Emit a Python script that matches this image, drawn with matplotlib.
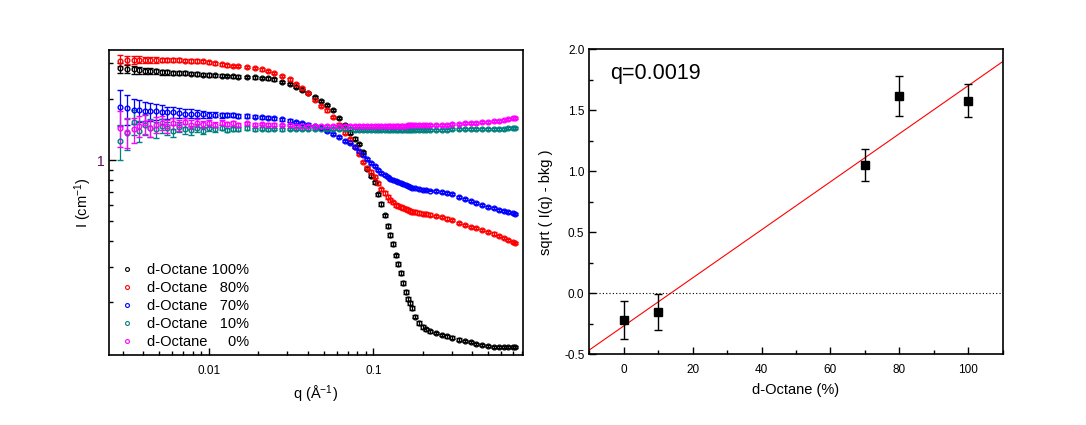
import numpy as np
import matplotlib
matplotlib.use("Agg")
import matplotlib.pyplot as plt
from matplotlib.lines import Line2D
from matplotlib.ticker import NullFormatter, LogLocator

plt.rcParams['font.family'] = ['Liberation Sans', 'DejaVu Sans']

# ---- left panel: SANS curves ----
q = [0.0029, 0.0032, 0.0035, 0.0038, 0.0041, 0.0044, 0.0048, 0.0052, 0.0056, 0.0061,
     0.0066, 0.0072, 0.0078, 0.0085, 0.0092, 0.010, 0.011, 0.012, 0.013, 0.014,
     0.015, 0.017, 0.019, 0.021, 0.023, 0.025, 0.028, 0.031, 0.034, 0.037,
     0.040, 0.044, 0.048, 0.052, 0.057, 0.062, 0.067, 0.072, 0.077, 0.082,
     0.087, 0.092, 0.097, 0.102, 0.107, 0.112, 0.117, 0.122, 0.127, 0.132,
     0.137, 0.142, 0.147, 0.152, 0.157, 0.162, 0.167, 0.172, 0.18, 0.19,
     0.20, 0.21, 0.22, 0.24, 0.26, 0.28, 0.30, 0.33, 0.36, 0.39,
     0.42, 0.46, 0.50, 0.54, 0.58, 0.62, 0.66, 0.70, 0.72]

I_100 = [2.85, 2.82, 2.80, 2.78, 2.76, 2.75, 2.74, 2.72, 2.71, 2.70,
         2.69, 2.68, 2.67, 2.66, 2.64, 2.63, 2.62, 2.61, 2.60, 2.59,
         2.58, 2.57, 2.56, 2.55, 2.53, 2.50, 2.44, 2.37, 2.30, 2.23,
         2.15, 2.05, 1.96, 1.87, 1.77, 1.62, 1.49, 1.37, 1.28, 1.20,
         1.10, 0.91, 0.84, 0.78, 0.68, 0.61, 0.535, 0.475, 0.43, 0.387,
         0.34, 0.31, 0.28, 0.25, 0.225, 0.208, 0.198, 0.187, 0.170, 0.158,
         0.151, 0.147, 0.144, 0.141, 0.138, 0.136, 0.134, 0.131, 0.129, 0.127,
         0.125, 0.123, 0.122, 0.121, 0.120, 0.120, 0.120, 0.121, 0.121]

I_80 = [3.10, 3.12, 3.12, 3.13, 3.12, 3.13, 3.12, 3.12, 3.12, 3.11,
        3.11, 3.10, 3.09, 3.08, 3.07, 3.04, 3.00, 2.97, 2.94, 2.92,
        2.91, 2.89, 2.85, 2.80, 2.75, 2.70, 2.61, 2.50, 2.37, 2.26,
        2.14, 1.99, 1.85, 1.76, 1.63, 1.50, 1.37, 1.27, 1.16, 1.07,
        0.98, 0.92, 0.88, 0.83, 0.77, 0.72, 0.69, 0.66, 0.635, 0.62,
        0.605, 0.595, 0.587, 0.58, 0.574, 0.568, 0.563, 0.559, 0.555, 0.55,
        0.547, 0.544, 0.540, 0.532, 0.526, 0.517, 0.507, 0.492, 0.480, 0.470,
        0.462, 0.452, 0.444, 0.436, 0.426, 0.415, 0.405, 0.396, 0.392]

I_70 = [1.84, 1.80, 1.76, 1.76, 1.75, 1.74, 1.74, 1.73, 1.72, 1.72,
        1.71, 1.70, 1.70, 1.69, 1.69, 1.68, 1.68, 1.67, 1.67, 1.67,
        1.66, 1.65, 1.64, 1.63, 1.62, 1.61, 1.59, 1.57, 1.54, 1.52,
        1.50, 1.47, 1.44, 1.40, 1.35, 1.30, 1.25, 1.21, 1.16, 1.11,
        1.06, 1.02, 0.97, 0.94, 0.90, 0.87, 0.85, 0.83, 0.812, 0.80,
        0.79, 0.78, 0.77, 0.762, 0.755, 0.748, 0.74, 0.733, 0.727, 0.72,
        0.716, 0.713, 0.71, 0.705, 0.698, 0.69, 0.68, 0.66, 0.645, 0.63,
        0.618, 0.60, 0.59, 0.58, 0.57, 0.563, 0.556, 0.55, 0.547]

I_10 = [1.25, 1.36, 1.55, 1.40, 1.50, 1.45, 1.42, 1.48, 1.44, 1.40,
        1.46, 1.43, 1.41, 1.45, 1.40, 1.44, 1.42, 1.45, 1.41, 1.43,
        1.42, 1.44, 1.42, 1.43, 1.42, 1.43, 1.42, 1.42, 1.42, 1.42,
        1.42, 1.42, 1.42, 1.42, 1.42, 1.42, 1.42, 1.42, 1.41, 1.41,
        1.41, 1.41, 1.41, 1.41, 1.41, 1.41, 1.41, 1.41, 1.41, 1.41,
        1.41, 1.41, 1.41, 1.41, 1.41, 1.41, 1.41, 1.41, 1.41, 1.41,
        1.41, 1.41, 1.41, 1.41, 1.41, 1.41, 1.42, 1.42, 1.42, 1.42,
        1.42, 1.42, 1.42, 1.43, 1.43, 1.43, 1.44, 1.44, 1.44]

I_0 = [1.45, 1.38, 1.42, 1.48, 1.52, 1.44, 1.50, 1.53, 1.47, 1.52,
       1.49, 1.54, 1.50, 1.53, 1.51, 1.52, 1.50, 1.53, 1.51, 1.52,
       1.50, 1.52, 1.50, 1.51, 1.50, 1.50, 1.49, 1.49, 1.48, 1.48,
       1.48, 1.48, 1.48, 1.48, 1.48, 1.48, 1.48, 1.48, 1.48, 1.48,
       1.48, 1.48, 1.48, 1.48, 1.48, 1.48, 1.48, 1.48, 1.48, 1.48,
       1.48, 1.48, 1.48, 1.48, 1.48, 1.49, 1.49, 1.49, 1.49, 1.49,
       1.49, 1.49, 1.49, 1.49, 1.50, 1.50, 1.51, 1.51, 1.52, 1.52,
       1.53, 1.54, 1.55, 1.56, 1.57, 1.58, 1.59, 1.61, 1.62]

# relative error bars (strong = 100 %, 80 %; weak = 70 %, 10 %, 0 %)
rel_err_strong = [0.06, 0.05, 0.045, 0.04, 0.035, 0.032, 0.03, 0.028, 0.026, 0.025,
                  0.024, 0.022, 0.02, 0.02, 0.018, 0.018, 0.016, 0.015, 0.015, 0.014,
                  0.014, 0.013, 0.013, 0.012, 0.012, 0.012, 0.012, 0.012, 0.012, 0.012,
                  0.012, 0.012, 0.012, 0.012, 0.012, 0.012, 0.012, 0.012, 0.012, 0.012,
                  0.015, 0.015, 0.015, 0.018, 0.018, 0.02, 0.02, 0.02, 0.022, 0.022,
                  0.022, 0.022, 0.022, 0.022, 0.022, 0.022, 0.022, 0.022, 0.02, 0.02,
                  0.018, 0.018, 0.016, 0.015, 0.015, 0.014, 0.014, 0.013, 0.013, 0.013,
                  0.012, 0.012, 0.012, 0.012, 0.012, 0.012, 0.012, 0.012, 0.012]
rel_err_weak = [0.20, 0.17, 0.14, 0.12, 0.11, 0.10, 0.09, 0.08, 0.07, 0.065,
                0.06, 0.055, 0.05, 0.045, 0.04, 0.035, 0.03, 0.028, 0.026, 0.024,
                0.022, 0.02, 0.018, 0.016, 0.015, 0.014, 0.013, 0.012, 0.012, 0.012,
                0.012, 0.012, 0.011, 0.011, 0.011, 0.011, 0.011, 0.011, 0.011, 0.011,
                0.011, 0.011, 0.011, 0.011, 0.011, 0.011, 0.011, 0.011, 0.011, 0.011,
                0.011, 0.011, 0.011, 0.011, 0.011, 0.011, 0.011, 0.011, 0.011, 0.011,
                0.011, 0.011, 0.011, 0.011, 0.011, 0.011, 0.011, 0.011, 0.011, 0.011,
                0.011, 0.011, 0.011, 0.011, 0.011, 0.011, 0.011, 0.011, 0.011]

labels = ['d-Octane 100%', 'd-Octane   80%', 'd-Octane   70%',
          'd-Octane   10%', 'd-Octane     0%']
colors = ['black', '#ff0000', '#0000ff', '#008080', '#ff00ff']

# ---- right panel: sqrt(I - bkg) vs d-Octane fraction ----
octane_pct = [0, 10, 70, 80, 100]
sqrt_signal = [-0.22, -0.15, 1.05, 1.62, 1.58]
sqrt_err = [0.157, 0.147, 0.131, 0.163, 0.135]
fit_slope = 0.0197
fit_intercept = -0.268

fig = plt.figure(figsize=(10.86, 4.25), dpi=100)

# left panel
ax1 = fig.add_axes([0.1006, 0.1647, 0.3807, 0.7169])
series = [I_100, I_80, I_70, I_10, I_0]
errs = [rel_err_strong, rel_err_strong, rel_err_weak, rel_err_weak, rel_err_weak]
qa = np.array(q)
for I, rel, c in zip(series, errs, colors):
    I = np.array(I)
    ax1.errorbar(qa, I, yerr=I * np.array(rel), fmt='o', color=c,
                 mfc='none', ms=3.4, mew=1.0, elinewidth=0.9, capsize=2.2, capthick=0.9)

ax1.set_xscale('log')
ax1.set_yscale('log')
ax1.set_xlim(0.00249, 0.807)
ax1.set_ylim(0.11, 3.48)
ax1.set_xticks([0.01, 0.1])
ax1.set_xticklabels(['0.01', '0.1'])
ax1.xaxis.set_minor_locator(LogLocator(base=10, subs=np.arange(2, 10)))
ax1.xaxis.set_minor_formatter(NullFormatter())
ax1.set_yticks([1])
ax1.set_yticklabels(['1'], color='#5a0a5a', fontsize=10)
ax1.yaxis.set_minor_locator(LogLocator(base=10, subs=np.arange(2, 10)))
ax1.yaxis.set_minor_formatter(NullFormatter())
ax1.tick_params(which='both', direction='in', width=1)
ax1.tick_params(which='major', length=5)
ax1.tick_params(which='minor', length=3)
ax1.tick_params(axis='x', labelsize=8.5, pad=7)
ax1.set_xlabel(r'q ($\mathregular{\AA^{-1}}$)', fontsize=10.5, labelpad=5)
ax1.set_ylabel(r'I (cm$\mathregular{^{-1}}$)', fontsize=10.5, labelpad=2)
for s in ax1.spines.values():
    s.set_linewidth(1.2)

handles = [Line2D([], [], marker='o', ls='none', color=c, mfc='none', ms=2.8, mew=0.8)
           for c in colors]
ax1.legend(handles, labels, loc='lower left', bbox_to_anchor=(0.0, -0.015),
           frameon=False, fontsize=10.5, handlelength=1.0, handletextpad=0.9,
           labelspacing=0.28, borderaxespad=0.3)

# right panel
ax2 = fig.add_axes([0.5426, 0.1664, 0.3807, 0.7176])
xfit = np.array([-10, 110])
ax2.plot(xfit, fit_intercept + fit_slope * xfit, color='#ff0000', lw=0.8)
ax2.axhline(0, color='black', ls=(0, (1, 2)), lw=0.8)
ax2.errorbar(octane_pct, sqrt_signal, yerr=sqrt_err, fmt='s', color='black',
             ms=5.5, elinewidth=1, capsize=3, capthick=1)
ax2.set_xlim(-10, 110)
ax2.set_ylim(-0.5, 2.0)
ax2.set_xticks([0, 20, 40, 60, 80, 100])
ax2.set_xticks([-10, 10, 30, 50, 70, 90, 110], minor=True)
ax2.set_yticks([-0.5, 0.0, 0.5, 1.0, 1.5, 2.0])
ax2.set_yticks([-0.25, 0.25, 0.75, 1.25, 1.75], minor=True)
ax2.set_yticklabels(['-0.5', '0.0', '0.5', '1.0', '1.5', '2.0'])
ax2.tick_params(which='both', direction='in', width=1, labelsize=8.5)
ax2.tick_params(which='major', length=5)
ax2.tick_params(which='minor', length=3)
ax2.tick_params(axis='x', pad=7)
ax2.set_xlabel('d-Octane (%)', fontsize=10.5, labelpad=5)
ax2.set_ylabel('sqrt ( I(q) - bkg )', fontsize=10.5, labelpad=8)
ax2.text(0.05, 0.92, 'q=0.0019', transform=ax2.transAxes, fontsize=15.5,
         va='center', ha='left')
for s in ax2.spines.values():
    s.set_linewidth(1.2)

fig.savefig('out.png', dpi=100)
